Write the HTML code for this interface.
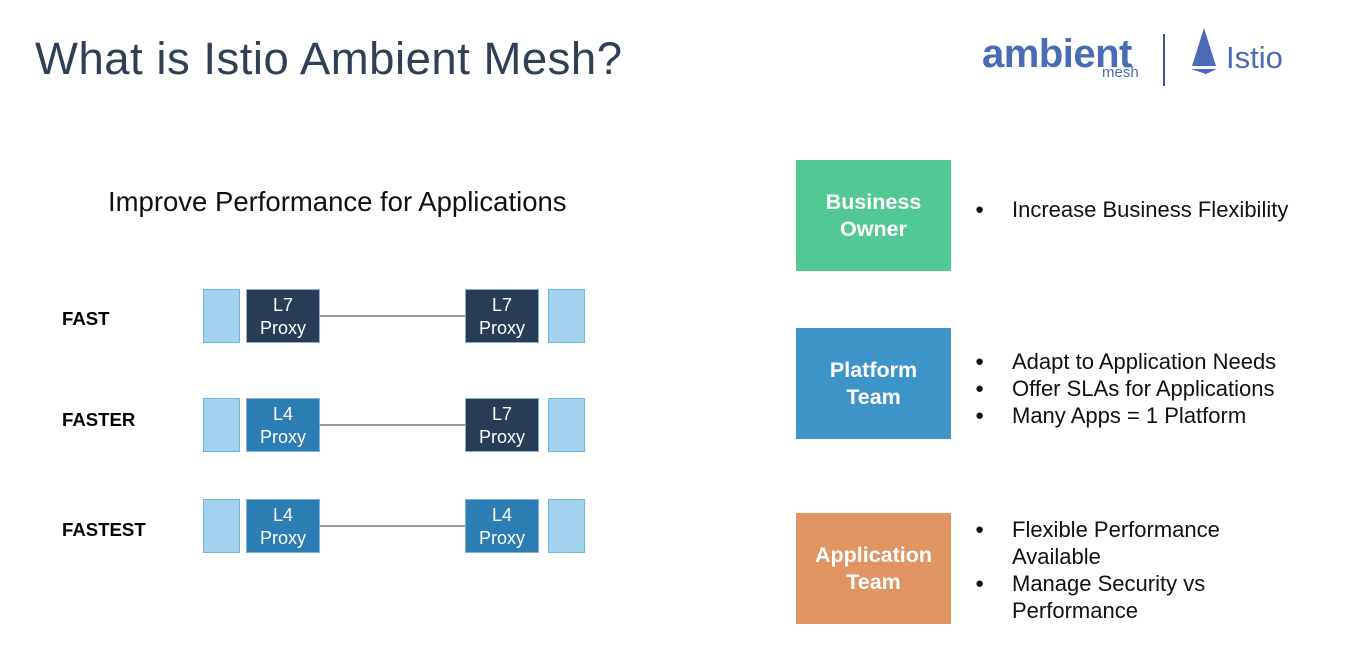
<!DOCTYPE html>
<html><head><style>
body{margin:0;width:1352px;height:667px;background:#fff;position:relative;overflow:hidden;font-family:"Liberation Sans",sans-serif}
.a{position:absolute}
.app{position:absolute;width:37px;height:54px;background:#a2d2ee;border:1px solid #6fb6e4;box-sizing:border-box}
.px{position:absolute;width:74px;height:54px;color:#fff;font-size:18px;text-align:center;line-height:23px;padding-top:4px;box-sizing:border-box;border:1px solid #7fb3d9}
.d{background:#293c56}.l{background:#2c7db3}
.ln{position:absolute;height:2px;background:#8f9aa6;left:319px;width:146px}
.lab{position:absolute;left:62px;font-weight:bold;font-size:18.6px;color:#000}
.box{position:absolute;left:796px;width:155px;height:111px;color:#fff;font-weight:bold;font-size:21.5px;text-align:center;line-height:27px;display:flex;align-items:center;justify-content:center}
.ul{position:absolute;left:975px;font-size:22px;line-height:27px;color:#111}
.ul div{position:relative;padding-left:37px;white-space:nowrap}
.ul div.b:before{content:"●";position:absolute;left:0;top:0;font-size:15px}
</style></head><body>
<div class="a" style="left:35px;top:33px;font-size:45.5px;color:#2f3f56;letter-spacing:0.5px">What is Istio Ambient Mesh?</div>
<div class="a" style="left:982px;top:32px;font-size:40px;font-weight:bold;color:#4a6bb5;letter-spacing:-0.5px">ambient</div>
<div class="a" style="left:1102px;top:64px;font-size:15px;color:#4a6bb5">mesh</div>
<div class="a" style="left:1163px;top:34px;width:2px;height:52px;background:#3a5590"></div>
<svg class="a" style="left:1188px;top:26px" width="32" height="50"><polygon points="16,2 28,40 4,40" fill="#4a6bb5"/><polygon points="3,43 29,43 18,48" fill="#4a6bb5"/></svg>
<div class="a" style="left:1226px;top:40px;font-size:31px;color:#4a6bb5">Istio</div>

<div class="a" style="left:108px;top:186px;font-size:27.5px;color:#111">Improve Performance for Applications</div>

<div class="lab" style="top:308px">FAST</div>
<div class="app" style="left:203px;top:289px"></div>
<div class="px d" style="left:246px;top:289px">L7<br>Proxy</div>
<div class="ln" style="top:315px"></div>
<div class="px d" style="left:465px;top:289px">L7<br>Proxy</div>
<div class="app" style="left:548px;top:289px"></div>

<div class="lab" style="top:409px">FASTER</div>
<div class="app" style="left:203px;top:398px"></div>
<div class="px l" style="left:246px;top:398px">L4<br>Proxy</div>
<div class="ln" style="top:424px"></div>
<div class="px d" style="left:465px;top:398px">L7<br>Proxy</div>
<div class="app" style="left:548px;top:398px"></div>

<div class="lab" style="top:519px">FASTEST</div>
<div class="app" style="left:203px;top:499px"></div>
<div class="px l" style="left:246px;top:499px">L4<br>Proxy</div>
<div class="ln" style="top:525px"></div>
<div class="px l" style="left:465px;top:499px">L4<br>Proxy</div>
<div class="app" style="left:548px;top:499px"></div>

<div class="box" style="top:160px;background:#52c994">Business<br>Owner</div>
<div class="box" style="top:328px;background:#3d94c8">Platform<br>Team</div>
<div class="box" style="top:513px;background:#e09461">Application<br>Team</div>

<div class="ul" style="top:196px"><div class="b">Increase Business Flexibility</div></div>
<div class="ul" style="top:348px"><div class="b">Adapt to Application Needs</div><div class="b">Offer SLAs for Applications</div><div class="b">Many Apps = 1 Platform</div></div>
<div class="ul" style="top:516px"><div class="b">Flexible Performance</div><div>Available</div><div class="b">Manage Security vs</div><div>Performance</div></div>
</body></html>
